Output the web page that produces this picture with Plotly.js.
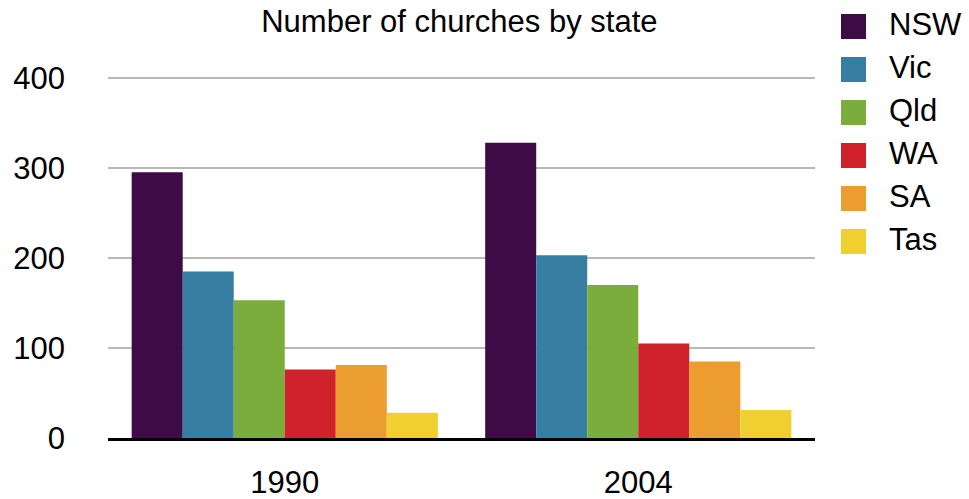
<!DOCTYPE html>
<html>
<head>
<meta charset="utf-8">
<script src="https://cdn.plot.ly/plotly-3.0.1.min.js"></script>
<style>
  html, body { margin: 0; padding: 0; background: #ffffff; }
  #chart { width: 969px; height: 499px; }
</style>
</head>
<body>
<div id="chart"></div>
<script>
// Survey years along the x axis
const years = ['1990', '2004'];

// States, in legend order, with their fill colours
const states = ['NSW', 'Vic', 'Qld', 'WA', 'SA', 'Tas'];
const stateColors = ['#3e0b47', '#367fa3', '#7bad3d', '#d0222b', '#eb9d2f', '#f0cf31'];

// Number of churches per state, one value per year
const nsw = [295, 328];
const vic = [185, 203];
const qld = [153, 170];
const wa  = [76, 105];
const sa  = [81, 85];
const tas = [28, 31];

const yTicks = [0, 100, 200, 300, 400];

const seriesValues = [nsw, vic, qld, wa, sa, tas];

const W = 969, H = 499;
const margin = { l: 108, r: 154, t: 76, b: 61 };
const plotW = W - margin.l - margin.r;
const plotH = H - margin.t - margin.b;
const FONT = '"Liberation Sans", Arial, Helvetica, sans-serif';
const FS = 31;

const traces = states.map((name, i) => ({
  type: 'bar',
  name: name,
  x: years,
  y: seriesValues[i],
  marker: { color: stateColors[i], line: { width: 0 } },
  hoverinfo: 'x+y+name'
}));

// Pixel helpers for the hand-built legend
const px2x = (px) => (px - margin.l) / plotW;
const px2y = (py) => (H - margin.b - py) / plotH;

const shapes = [];
const annotations = [];
states.forEach((name, i) => {
  const top = 14 + i * 43;
  shapes.push({
    type: 'rect', xref: 'paper', yref: 'paper',
    x0: px2x(841), x1: px2x(866),
    y0: px2y(top + 25), y1: px2y(top),
    fillcolor: stateColors[i], line: { width: 0 }
  });
  annotations.push({
    xref: 'paper', yref: 'paper',
    x: px2x(887), y: px2y(top + 10.5),
    xanchor: 'left', yanchor: 'middle',
    text: name, showarrow: false,
    font: { family: FONT, size: FS, color: '#000000' }
  });
});

const layout = {
  width: W, height: H,
  margin: margin,
  paper_bgcolor: '#ffffff',
  plot_bgcolor: '#ffffff',
  barmode: 'group',
  bargap: 0.134,
  bargroupgap: 0,
  showlegend: false,
  font: { family: FONT, size: FS, color: '#000000' },
  title: {
    text: 'Number of churches by state',
    font: { family: FONT, size: FS, color: '#000000' },
    xref: 'paper', x: 0.497, xanchor: 'center',
    yref: 'container', y: 1 - 21 / H, yanchor: 'middle'
  },
  xaxis: {
    type: 'category',
    showgrid: false,
    showline: true, linecolor: '#000000', linewidth: 3,
    ticks: '', ticklabelstandoff: 15,
    tickfont: { family: FONT, size: FS, color: '#000000' },
    fixedrange: true
  },
  yaxis: {
    range: [0, 402],
    tickvals: yTicks,
    ticktext: yTicks.map(String),
    showgrid: true, gridcolor: '#b8b8b8', gridwidth: 2.5,
    zeroline: false, showline: false,
    ticks: '', ticklabelstandoff: 42,
    tickfont: { family: FONT, size: FS, color: '#000000' },
    fixedrange: true
  },
  shapes: shapes,
  annotations: annotations
};

Plotly.newPlot('chart', traces, layout, { displayModeBar: false, staticPlot: true });
</script>
</body>
</html>
